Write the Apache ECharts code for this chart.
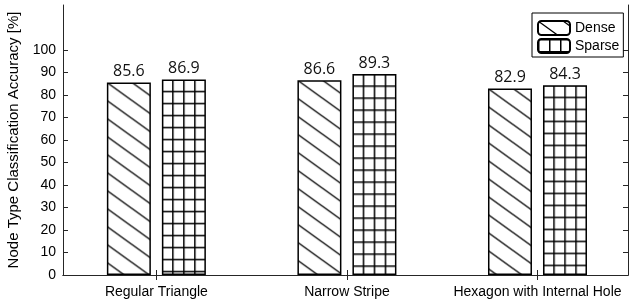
<!DOCTYPE html>
<html>
<head>
<meta charset="utf-8">
<script src="https://cdn.jsdelivr.net/npm/echarts@6/dist/echarts.min.js"></script>
<style>
  html, body { margin: 0; padding: 0; background: #fff; }
  #chart { width: 633px; height: 301px; }
</style>
</head>
<body>
<div id="chart"></div>
<script>
var categories = ['Regular Triangle', 'Narrow Stripe', 'Hexagon with Internal Hole'];
var denseValues = [85.6, 86.6, 82.9];
var sparseValues = [86.9, 89.3, 84.3];
var yTicks = [0, 10, 20, 30, 40, 50, 60, 70, 80, 90, 100];
var xTicks = [1, 2, 3];

// hatch tiles
function makeTile(w, h, draw) {
    var c = document.createElement('canvas');
    c.width = w; c.height = h;
    var ctx = c.getContext('2d');
    ctx.fillStyle = '#fff';
    ctx.fillRect(0, 0, w, h);
    ctx.strokeStyle = '#000';
    draw(ctx, w, h);
    return c;
}
var denseTile = makeTile(25, 18, function (ctx, w, h) {
    ctx.lineWidth = 1.3;
    ctx.beginPath();
    for (var k = -2; k <= 2; k++) {
        ctx.moveTo(-w, -h + k * h);
        ctx.lineTo(2 * w, 2 * h + k * h);
    }
    ctx.stroke();
});
var sparseTile = makeTile(11, 12, function (ctx, w, h) {
    ctx.lineWidth = 1.5;
    ctx.beginPath();
    ctx.moveTo(0.75, 0); ctx.lineTo(0.75, h);
    ctx.moveTo(0, 0.75); ctx.lineTo(w, 0.75);
    ctx.stroke();
});
function pattern(tile, x, y) {
    return { image: tile, repeat: 'repeat', x: x || 0, y: y || 0 };
}

var axisColor = '#262626';
var font = 'Liberation Sans, Arial, sans-serif';

var chart = echarts.init(document.getElementById('chart'));
var option = {
    animation: false,
    backgroundColor: '#fff',
    grid: { left: 63, right: 5, top: 5, bottom: 26, outerBoundsMode: 'none' },
    legend: {
        orient: 'vertical',
        left: 532, top: 13,
        padding: [7, 4, 3, 5],
        itemGap: 2,
        itemWidth: 32, itemHeight: 14,
        borderColor: '#000', borderWidth: 1,
        backgroundColor: '#fff',
        textStyle: { fontFamily: font, fontSize: 14, color: '#000' },
        data: ['Dense', 'Sparse']
    },
    xAxis: [{
        type: 'value', position: 'bottom',
        min: 0.51, max: 3.475,
        splitLine: { show: false },
        axisLine: { lineStyle: { color: axisColor, width: 1 } },
        axisTick: { inside: true, length: 5, customValues: xTicks, lineStyle: { color: axisColor } },
        axisLabel: {
            customValues: xTicks, margin: 10,
            fontFamily: font, fontSize: 14, color: '#000',
            formatter: function (v) { return categories[v - 1]; }
        }
    }, {
        type: 'value', position: 'top',
        min: 0.51, max: 3.475,
        splitLine: { show: false },
        axisLine: { lineStyle: { color: axisColor, width: 1 } },
        axisTick: { inside: true, length: 5, customValues: xTicks, lineStyle: { color: axisColor } },
        axisLabel: { show: false }
    }],
    yAxis: [{
        type: 'value', position: 'left',
        min: 0, max: 120, interval: 10,
        name: 'Node Type Classification Accuracy [%]',
        nameLocation: 'middle', nameGap: 41,
        nameTextStyle: { fontFamily: font, fontSize: 15, color: '#000' },
        splitLine: { show: false },
        axisLine: { show: true, lineStyle: { color: axisColor, width: 1 } },
        axisTick: { show: true, inside: true, length: 5, customValues: yTicks, lineStyle: { color: axisColor } },
        axisLabel: { customValues: yTicks, margin: 7, fontFamily: font, fontSize: 14, color: '#000' }
    }, {
        type: 'value', position: 'right',
        min: 0, max: 120, interval: 10,
        splitLine: { show: false },
        axisLine: { show: true, lineStyle: { color: axisColor, width: 1 } },
        axisTick: { show: true, inside: true, length: 5, customValues: yTicks, lineStyle: { color: axisColor } },
        axisLabel: { show: false }
    }],
    series: [{
        name: 'Dense', type: 'bar',
        barWidth: 44, barGap: '25%',
        data: denseValues.map(function (v, i) { return [i + 1, v]; }),
        itemStyle: { color: pattern(denseTile), borderColor: '#000', borderWidth: 1.5 },
        label: { show: true, position: 'top', distance: 3, fontFamily: 'Open Sans', fontSize: 16, color: '#111',
                 formatter: function (p) { return p.value[1].toFixed(1); } }
    }, {
        name: 'Sparse', type: 'bar',
        barWidth: 44, barGap: '25%',
        data: sparseValues.map(function (v, i) { return [i + 1, v]; }),
        itemStyle: { color: pattern(sparseTile), borderColor: '#000', borderWidth: 1.5 },
        label: { show: true, position: 'top', distance: 3, fontFamily: 'Open Sans', fontSize: 16, color: '#111',
                 formatter: function (p) { return p.value[1].toFixed(1); } }
    }]
};
chart.setOption(option);

// line the hatch up with each bar's top-left corner
function alignHatch(seriesIndex, values, tile, off) {
    var data = chart.getModel().getSeriesByIndex(seriesIndex).getData();
    return values.map(function (v, i) {
        var l = data.getItemLayout(i);
        var top = Math.min(l.y, l.y + l.height);
        return { value: [i + 1, v], itemStyle: { color: pattern(tile, l.x - off, top - off) } };
    });
}
chart.setOption({
    series: [
        { data: alignHatch(0, denseValues, denseTile, 0) },
        { data: alignHatch(1, sparseValues, sparseTile, 0.75) }
    ]
});
</script>
</body>
</html>
